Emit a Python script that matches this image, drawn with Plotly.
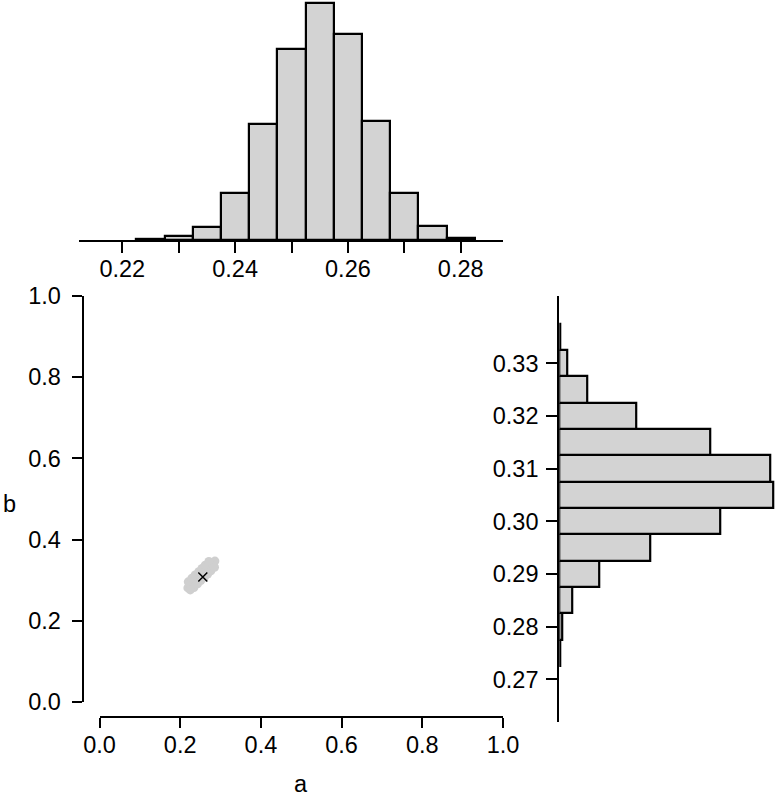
import plotly.graph_objects as go

# --- data ---
# top histogram of a (bin width 0.005)
a_bins = [0.225, 0.23, 0.235, 0.24, 0.245, 0.25, 0.255, 0.26, 0.265, 0.27, 0.275, 0.28]
a_counts = [1, 4, 13, 47, 116, 191, 237, 206, 119, 47, 14, 2]

# right histogram of b (bin width 0.005)
b_bins = [0.275, 0.28, 0.285, 0.29, 0.295, 0.30, 0.305, 0.31, 0.315, 0.32, 0.325, 0.33, 0.335]
b_counts = [1, 3, 13, 40, 91, 161, 214, 211, 151, 77, 28, 8, 1]

# joint cloud (approximate outline of the grey blob)
cloud_a = [0.219, 0.227, 0.236, 0.244, 0.253, 0.261, 0.269, 0.278, 0.286,
           0.220, 0.229, 0.237, 0.246, 0.254, 0.262, 0.271,
           0.234, 0.243, 0.251, 0.260, 0.268, 0.276, 0.285, 0.225]
cloud_b = [0.281, 0.289, 0.298, 0.306, 0.314, 0.322, 0.330, 0.339, 0.347,
           0.296, 0.305, 0.313, 0.321, 0.329, 0.337, 0.346,
           0.282, 0.291, 0.299, 0.307, 0.315, 0.323, 0.332, 0.276]

mean_a = [0.256]
mean_b = [0.308]

main_ticks = [0.0, 0.2, 0.4, 0.6, 0.8, 1.0]
main_ticktext = ["0.0", "0.2", "0.4", "0.6", "0.8", "1.0"]
a_ticks = [0.22, 0.23, 0.24, 0.25, 0.26, 0.27, 0.28]
a_ticktext = ["0.22", "", "0.24", "", "0.26", "", "0.28"]
b_ticks = [0.27, 0.28, 0.29, 0.30, 0.31, 0.32, 0.33]
b_ticktext = ["0.27", "0.28", "0.29", "0.30", "0.31", "0.32", "0.33"]

W, H = 776, 799
def px(x):
    return x / W
def py(y):
    return 1 - y / H

grey = "#d3d3d3"
fnt = dict(family="Liberation Sans, Arial, sans-serif", size=23.5, color="black")

fig = go.Figure()

# scatter cloud + mean
fig.add_trace(go.Scatter(
    x=cloud_a, y=cloud_b, mode="markers",
    marker=dict(color="#cfcfcf", size=9, line=dict(width=0)),
    xaxis="x", yaxis="y", showlegend=False, hoverinfo="skip"
))
fig.add_trace(go.Scatter(
    x=mean_a, y=mean_b, mode="markers",
    marker=dict(symbol="x-thin-open", color="black", size=9,
                line=dict(width=1.5, color="black")),
    xaxis="x", yaxis="y", showlegend=False
))

# top histogram
fig.add_trace(go.Bar(
    x=a_bins, y=a_counts, width=0.005,
    marker=dict(color=grey, line=dict(color="black", width=2.2)),
    xaxis="x2", yaxis="y2", showlegend=False
))

# right histogram
fig.add_trace(go.Bar(
    y=b_bins, x=b_counts, width=0.005, orientation="h",
    marker=dict(color=grey, line=dict(color="black", width=2.2)),
    xaxis="x3", yaxis="y3", showlegend=False
))

ax = dict(showline=True, linewidth=2.2, linecolor="black", ticks="outside",
          ticklen=10, tickwidth=2.2, tickcolor="black", showgrid=False,
          zeroline=False, tickfont=fnt, automargin=False)

fig.update_layout(
    template="none",
    width=W, height=H,
    margin=dict(l=0, r=0, t=0, b=0, pad=0),
    paper_bgcolor="white", plot_bgcolor="white",
    font=fnt,
    bargap=0,
    xaxis=dict(ax, domain=[px(99.5), px(503)], range=[0, 1], anchor="free",
               position=py(717.3), tickvals=main_ticks, ticktext=main_ticktext,
               ticklabelstandoff=-4),
    yaxis=dict(ax, domain=[py(702), py(296)], range=[0, 1], anchor="free",
               position=px(82.7), tickvals=main_ticks, ticktext=main_ticktext,
               ticklabelstandoff=6),
    xaxis2=dict(ax, domain=[px(79), px(503.3)], range=[0.21232, 0.28755],
                anchor="y2", tickvals=a_ticks, ticktext=a_ticktext, ticklen=11,
                ticklabelstandoff=-4),
    yaxis2=dict(domain=[py(240), 1], range=[0, 240], anchor="x2", visible=False),
    xaxis3=dict(domain=[px(559.3), 1], range=[0, 216.7], anchor="y3", visible=False),
    yaxis3=dict(ax, domain=[py(721.7), py(296)], range=[0.26195, 0.34278],
                anchor="x3", tickvals=b_ticks, ticktext=b_ticktext, ticklen=11,
                ticklabelstandoff=3),
    annotations=[
        dict(text="a", x=px(301), y=py(784), xref="paper", yref="paper",
             showarrow=False, font=fnt, xanchor="center", yanchor="middle"),
        dict(text="b", x=px(9), y=py(504), xref="paper", yref="paper",
             showarrow=False, font=fnt, xanchor="center", yanchor="middle"),
    ],
)

# the page body has an 8px default margin; drop it so the figure sits at 0,0
fig.write_html("out.html", config={"displayModeBar": False},
               post_script="document.body.style.margin = '0';")
